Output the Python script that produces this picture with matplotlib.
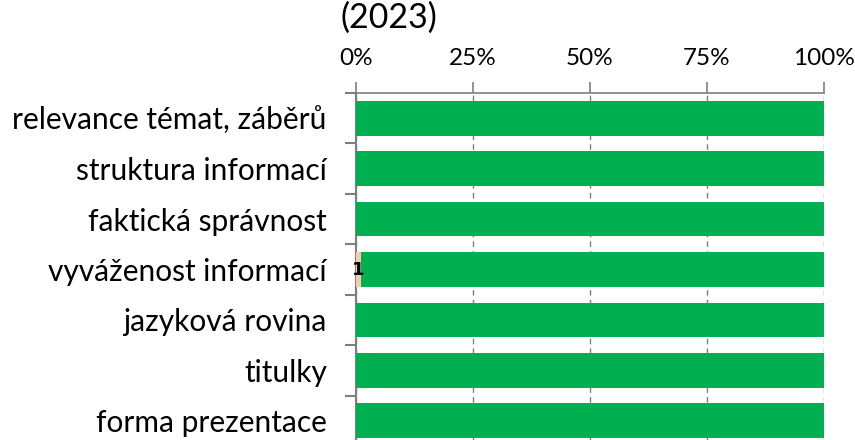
import numpy as np
import matplotlib.pyplot as plt
from matplotlib.ticker import FixedLocator, PercentFormatter

categories = ['relevance témat, záběrů', 'struktura informací', 'faktická správnost',
              'vyváženost informací', 'jazyková rovina', 'titulky', 'forma prezentace']
# share of answers (%) per category
other = [0, 0, 0, 1.1, 0, 0, 0]
other_labels = ['', '', '', '1', '', '', '']
positive = [100, 100, 100, 98.9, 100, 100, 100]

plt.rcParams['font.family'] = ['Lato', 'DejaVu Sans']

fig = plt.figure(figsize=(8.55, 4.4), dpi=100)
ax = fig.add_axes([356 / 855, -6 / 440, 468 / 855, 353 / 440])

y = np.arange(len(categories))
ax.barh(y, other, height=0.69, color='#F8CBAD', zorder=3)
ax.barh(y, positive, left=other, height=0.69, color='#00B050', zorder=3)
for i, (v, lab) in enumerate(zip(other, other_labels)):
    if lab:
        ax.text(v / 2, i, lab, ha='center', va='center', fontsize=13,
                fontweight='bold', family='DejaVu Sans', color='black', zorder=4)

ax.set_xlim(0, 100)
ax.set_ylim(len(categories) - 0.5, -0.5)
ax.set_yticks(y)
ax.set_yticklabels(categories, fontsize=21.5)
ax.yaxis.set_minor_locator(FixedLocator(np.arange(-0.5, len(categories), 1)))
ax.tick_params(axis='y', which='major', length=0, pad=21)
ax.tick_params(axis='y', which='minor', length=8, width=1.5, color='#7F7F7F')

ax.xaxis.tick_top()
ax.set_xticks([0, 25, 50, 75, 100])
ax.xaxis.set_major_formatter(PercentFormatter(decimals=0))
ax.tick_params(axis='x', length=8, width=1.2, color='#7F7F7F', labelsize=17.5, pad=9)
ax.grid(axis='x', color='#7F7F7F', linestyle=(0, (4, 3)), linewidth=1, zorder=0)

for s in ['right', 'bottom']:
    ax.spines[s].set_visible(False)
ax.spines['top'].set_color('#7F7F7F')
ax.spines['top'].set_linewidth(1.2)
ax.spines['left'].set_color('#7F7F7F')
ax.spines['left'].set_linewidth(1.5)

fig.text(340 / 855, 1 - 2 / 440, '(2023)', ha='left', va='top', fontsize=24.5)

fig.savefig('out.png', dpi=100)
